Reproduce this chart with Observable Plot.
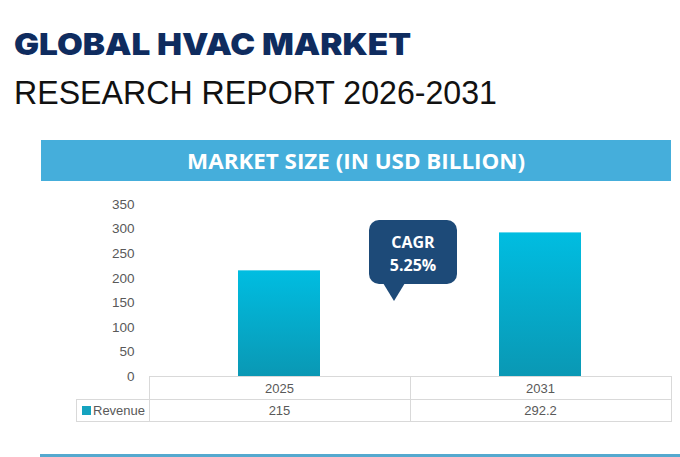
<!DOCTYPE html>
<html>
<head>
<meta charset="utf-8">
<script src="https://cdn.jsdelivr.net/npm/d3@7"></script>
<script src="https://cdn.jsdelivr.net/npm/@observablehq/plot@0.6"></script>
<style>
  html, body { margin: 0; padding: 0; background: #fff; }
  #page { position: relative; width: 680px; height: 457px; overflow: hidden; background: #fff; }
  .abs { position: absolute; }
  #t1 { left: 14px; top: 24px; font-family: "Inter", "DejaVu Sans", sans-serif; font-weight: 900; font-size: 30px; color: #0f2c5f; white-space: nowrap; transform-origin: 0 0; line-height: 40px; }
  #t2 { left: 14px; top: 71px; font-family: "Liberation Sans", Arial, sans-serif; font-size: 33px; color: #111; white-space: nowrap; transform-origin: 0 0; line-height: 44px; }
  #band { left: 41px; top: 140px; width: 630px; height: 41px; background: #45aedb; }
  #bandText { position: absolute; left: 0; top: 0; width: 630px; height: 41px; line-height: 41px; text-align: center; font-family: "Open Sans", sans-serif; font-weight: 700; font-size: 22px; color: #fff; white-space: nowrap; }
  #bandText span { display: inline-block; transform-origin: 50% 50%; }
  #chart { left: 0; top: 190px; }
  #callout { left: 369px; top: 220px; width: 88px; height: 64px; background: #1d4a78; border-radius: 10px; color: #fff; font-family: "Open Sans", sans-serif; font-weight: 700; font-size: 16px; text-align: center; line-height: 23px; box-sizing: border-box; padding-top: 11px; }
  #tip { left: 383px; top: 283px; width: 0; height: 0; border-left: 11px solid transparent; border-right: 11px solid transparent; border-top: 18px solid #1d4a78; }
  #tbl { left: 76px; top: 376px; border-collapse: collapse; font-family: "Liberation Sans", Arial, sans-serif; font-size: 13px; color: #595959; background: transparent; }
  #tbl td { border: 1px solid #d9d9d9; text-align: center; padding: 0; background: #fff; }
  #tbl td.blank { border: none; border-right: 1px solid #d9d9d9; background: transparent; }
  #tbl tr.r1 td { height: 22px; }
  #tbl tr.r2 td { height: 21px; }
  #tbl td.lab { text-align: left; padding-left: 5px; white-space: nowrap; }
  .key { display: inline-block; width: 9px; height: 9px; background: #15a3bf; margin-right: 2px; vertical-align: 0px; }
  #bottomLine { left: 40px; top: 454px; width: 640px; height: 3px; background: #55a9cf; }
</style>
</head>
<body>
<div id="page">
  <div id="t1" class="abs"></div>
  <div id="t2" class="abs"></div>
  <div id="band" class="abs"><div id="bandText"><span></span></div></div>
  <div id="chart" class="abs"></div>
  <div id="callout" class="abs"></div>
  <div id="tip" class="abs"></div>
  <table id="tbl" class="abs"></table>
  <div id="bottomLine" class="abs"></div>
</div>
<script>
const titleLine1 = "GLOBAL HVAC MARKET";
const titleLine2 = "RESEARCH REPORT 2026-2031";
const sectionTitle = "MARKET SIZE (IN USD BILLION)";
const years = ["2025", "2031"];
const revenue = [215, 292.2];
const revenueLabels = ["215", "292.2"];
const seriesName = "Revenue";
const yTicks = [0, 50, 100, 150, 200, 250, 300, 350];
const cagrLabel = "CAGR";
const cagrValue = "5.25%";

const data = years.map((y, i) => ({year: y, value: revenue[i]}));

function fitWidth(el, target) {
  const w = el.getBoundingClientRect().width;
  if (w > 0) el.style.transform = `scaleX(${target / w})`;
}

const t1 = document.getElementById("t1");
t1.textContent = titleLine1;
fitWidth(t1, 397);
const t2 = document.getElementById("t2");
t2.textContent = titleLine2;
fitWidth(t2, 483);
const bs = document.querySelector("#bandText span");
bs.textContent = sectionTitle;
fitWidth(bs, 338);

document.getElementById("callout").innerHTML = `${cagrLabel}<br>${cagrValue}`;

const chart = Plot.plot({
  width: 680,
  height: 200,
  marginLeft: 148,
  marginRight: 10,
  marginTop: 14,
  marginBottom: 14,
  style: {fontFamily: "Liberation Sans, Arial, sans-serif", fontSize: "13.5px", color: "#595959", background: "transparent", overflow: "visible"},
  x: {domain: years, paddingInner: 0.686, paddingOuter: 0.343, axis: null},
  y: {domain: [0, 350], ticks: yTicks, tickSize: 0, tickPadding: 14, label: null},
  marks: [
    Plot.barY(data, {x: "year", y: "value", fill: "url(#barGrad)"})
  ]
});
const svg = d3.select(chart);
const defs = svg.insert("defs", ":first-child");
const g = defs.append("linearGradient").attr("id", "barGrad").attr("x1", 0).attr("y1", 0).attr("x2", 0).attr("y2", 1);
g.append("stop").attr("offset", "0%").attr("stop-color", "#00bde1");
g.append("stop").attr("offset", "100%").attr("stop-color", "#0a98b4");
document.getElementById("chart").appendChild(chart);

const tbl = document.getElementById("tbl");
let h1 = `<tr class="r1"><td class="blank" style="width:72px"></td>`;
years.forEach(y => { h1 += `<td style="width:260px">${y}</td>`; });
h1 += `</tr>`;
let h2 = `<tr class="r2"><td class="lab"><span class="key"></span>${seriesName}</td>`;
revenueLabels.forEach(v => { h2 += `<td>${v}</td>`; });
h2 += `</tr>`;
tbl.innerHTML = h1 + h2;
</script>
</body>
</html>
